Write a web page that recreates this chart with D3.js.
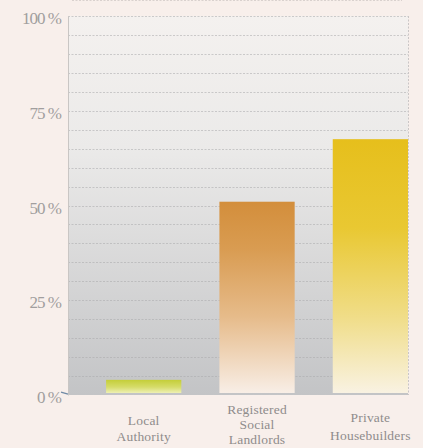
<!DOCTYPE html>
<html>
<head>
<meta charset="utf-8">
<script src="https://cdn.jsdelivr.net/npm/d3@7"></script>
<style>
  html, body { margin: 0; padding: 0; background: #f8efeb; }
  svg { display: block; }
</style>
</head>
<body>
<svg id="chart" width="423" height="448"></svg>
<script>
// Share of new homes built, by provider (percent)
const categories = ["Local Authority", "Registered Social Landlords", "Private Housebuilders"];
const categoryLines = [["Local", "Authority"], ["Registered", "Social", "Landlords"], ["Private", "Housebuilders"]];
const values = [4, 51, 67.5];
const tickValues = [0, 25, 50, 75, 100];
const tickLabels = ["0 %", "25 %", "50 %", "75 %", "100 %"];
const gridValues = d3.range(5, 105, 5);

// Gradient stops for each bar, top to bottom
const barStops = [
  [["0%", "#c4ce38"], ["55%", "#d6dc6a"], ["100%", "#eef0b4"]],
  [["0%", "#d38e3b"], ["25%", "#d99c52"], ["60%", "#e6bb8a"], ["100%", "#f8eee6"]],
  [["0%", "#e6bf1c"], ["35%", "#e9c832"], ["70%", "#f0dd88"], ["100%", "#f9f2e2"]]
];

const svg = d3.select("#chart");
const margin = { left: 68, right: 15, top: 16, bottom: 53 };
const W = 423, H = 448;
const x0 = margin.left, x1 = W - margin.right;
const yTop = margin.top, yBot = H - margin.bottom;

const x = d3.scaleBand()
  .domain(categories)
  .range([x0, x1])
  .paddingInner(0.336)
  .paddingOuter(0.168)
  .align(1);

const y = d3.scaleLinear().domain([0, 100]).range([yBot, yTop]);

const defs = svg.append("defs");

// Plot background: pale at the top, grey at the bottom
const bg = defs.append("linearGradient")
  .attr("id", "plotBg").attr("x1", 0).attr("y1", 0).attr("x2", 0).attr("y2", 1);
bg.append("stop").attr("offset", "0%").attr("stop-color", "#f4f1ef");
bg.append("stop").attr("offset", "35%").attr("stop-color", "#ebeae9");
bg.append("stop").attr("offset", "100%").attr("stop-color", "#c3c4c6");

svg.append("rect")
  .attr("x", x0).attr("y", yTop)
  .attr("width", x1 - x0).attr("height", yBot - yTop)
  .attr("fill", "url(#plotBg)");

// faint dotted rule along the top edge
svg.append("line")
  .attr("x1", 72).attr("x2", 402)
  .attr("y1", 0.5).attr("y2", 0.5)
  .attr("stroke", "#b9b4b2").attr("stroke-opacity", 0.5)
  .attr("stroke-dasharray", "2,1.5");

// Dotted gridlines every 5 %
svg.append("g")
  .selectAll("line")
  .data(gridValues)
  .join("line")
  .attr("x1", x0).attr("x2", x1)
  .attr("y1", d => Math.round(y(d)) + 0.5)
  .attr("y2", d => Math.round(y(d)) + 0.5)
  .attr("stroke", "#a9a9ab")
  .attr("stroke-opacity", 0.55)
  .attr("stroke-width", 1)
  .attr("stroke-dasharray", "2,1.5");

// Dotted right edge of the plot
svg.append("line")
  .attr("x1", x1 + 0.5).attr("x2", x1 + 0.5)
  .attr("y1", yTop).attr("y2", yBot)
  .attr("stroke", "#b5b5b7")
  .attr("stroke-opacity", 0.7)
  .attr("stroke-dasharray", "2,1.5");

// Bar gradients
barStops.forEach((stops, i) => {
  const g = defs.append("linearGradient")
    .attr("id", "bar" + i).attr("x1", 0).attr("y1", 0).attr("x2", 0).attr("y2", 1);
  stops.forEach(s => g.append("stop").attr("offset", s[0]).attr("stop-color", s[1]));
});

svg.append("g")
  .selectAll("rect")
  .data(values)
  .join("rect")
  .attr("x", (d, i) => x(categories[i]))
  .attr("width", x.bandwidth())
  .attr("y", d => y(d))
  .attr("height", d => y(0) - 2 - y(d))
  .attr("fill", (d, i) => `url(#bar${i})`);

// Left axis
const yAxis = d3.axisLeft(y)
  .tickValues(tickValues)
  .tickFormat((d, i) => tickLabels[i])
  .tickSize(0)
  .tickPadding(7);

const ax = svg.append("g")
  .attr("transform", `translate(${x0},0)`)
  .call(yAxis);
ax.select(".domain").attr("stroke", "#c9c6c4").attr("stroke-width", 1);
ax.selectAll("text")
  .attr("font-family", "'Liberation Serif', 'DejaVu Serif', serif")
  .attr("font-size", 17)
  .attr("dy", "0.45em")
  .attr("fill", "#a19e9e")
  .attr("letter-spacing", "-1");

// small zero tick
svg.append("line")
  .attr("x1", x0 - 7).attr("x2", x0)
  .attr("y1", y(0) - 3).attr("y2", y(0) - 1)
  .attr("stroke", "#6f8aa6").attr("stroke-width", 1.3);

// Category labels
const baselines = [[425, 441], [413.5, 428.8, 444], [422, 440]];
const lab = svg.append("g")
  .selectAll("text")
  .data(categories)
  .join("text")
  .attr("text-anchor", "middle")
  .attr("font-family", "'Liberation Serif', 'DejaVu Serif', serif")
  .attr("font-size", 13.5)
  .attr("fill", "#8f8c8c")
  .attr("letter-spacing", "0.2");

lab.each(function(d, i) {
  d3.select(this).selectAll("tspan")
    .data(categoryLines[i])
    .join("tspan")
    .attr("x", x(d) + x.bandwidth() / 2)
    .attr("y", (t, j) => baselines[i][j])
    .text(t => t);
});
</script>
</body>
</html>
